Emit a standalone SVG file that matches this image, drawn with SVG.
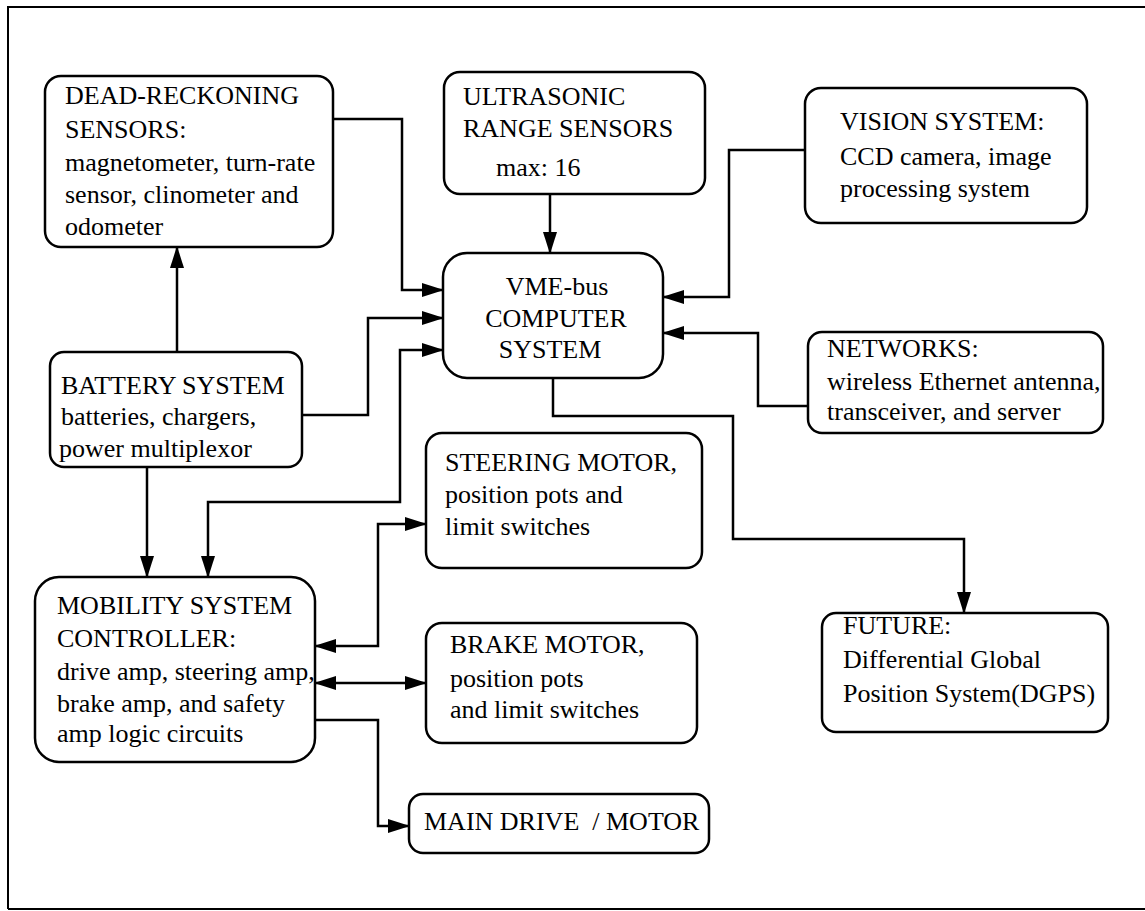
<svg xmlns="http://www.w3.org/2000/svg" width="1145" height="911" viewBox="0 0 1145 911">
  <style>
    .box { fill: #ffffff; stroke: #000000; stroke-width: 2.5; }
    .wire { fill: none; stroke: #000000; stroke-width: 2.5; }
    .frame { fill: none; stroke: #000000; stroke-width: 2; }
    text { font-family: "Liberation Serif", "Times New Roman", serif; font-size: 26px; fill: #000000; white-space: pre; }
    .mid { text-anchor: middle; }
  </style>
  <defs>
    <marker id="arrow" markerUnits="userSpaceOnUse" markerWidth="22" markerHeight="14" refX="21" refY="7" orient="auto-start-reverse">
      <path d="M0,0 L22,7 L0,14 Z" fill="#000000"/>
    </marker>
  </defs>

  <rect width="1145" height="911" fill="#ffffff"/>

  <!-- page frame -->
  <g id="frame">
    <path class="frame" d="M8,909 V7 H1145"/>
    <path class="frame" d="M8,909 H1145"/>
  </g>

  <!-- connectors -->
  <g id="connectors">
    <path class="wire" d="M333,119 H402 V290 H443" marker-end="url(#arrow)"/>
    <path class="wire" d="M550,194 V253" marker-end="url(#arrow)"/>
    <path class="wire" d="M805,150 H729 V297 H663" marker-end="url(#arrow)"/>
    <path class="wire" d="M808,406 H758 V333 H663" marker-end="url(#arrow)"/>
    <path class="wire" d="M177,352 V247" marker-end="url(#arrow)"/>
    <path class="wire" d="M302,415 H368 V318 H443" marker-end="url(#arrow)"/>
    <path class="wire" d="M443,350 H400 V502 H208 V577" marker-start="url(#arrow)" marker-end="url(#arrow)"/>
    <path class="wire" d="M147,467 V577" marker-end="url(#arrow)"/>
    <path class="wire" d="M553,378 V416 H733 V539 H964 V613" marker-end="url(#arrow)"/>
    <path class="wire" d="M315,646 H378 V524 H426" marker-start="url(#arrow)" marker-end="url(#arrow)"/>
    <path class="wire" d="M315,683 H426" marker-start="url(#arrow)" marker-end="url(#arrow)"/>
    <path class="wire" d="M315,720 H378 V826 H409" marker-end="url(#arrow)"/>
  </g>

  <g id="dead-reckoning">
    <rect class="box" x="45" y="76" width="288" height="171" rx="16"/>
    <text x="65" y="104">DEAD-RECKONING</text>
    <text x="65" y="138">SENSORS:</text>
    <text x="65" y="171">magnetometer, turn-rate</text>
    <text x="65" y="203">sensor, clinometer and</text>
    <text x="65" y="235">odometer</text>
  </g>

  <g id="ultrasonic">
    <rect class="box" x="444" y="72" width="261" height="122" rx="16"/>
    <text x="463" y="105">ULTRASONIC</text>
    <text x="463" y="137">RANGE SENSORS</text>
    <text x="496" y="176">max: 16</text>
  </g>

  <g id="vision">
    <rect class="box" x="805" y="88" width="282" height="135" rx="16"/>
    <text x="840" y="130">VISION SYSTEM:</text>
    <text x="840" y="165">CCD camera, image</text>
    <text x="840" y="197">processing system</text>
  </g>

  <g id="vme-computer">
    <rect class="box" x="443" y="253" width="220" height="125" rx="24"/>
    <text class="mid" x="557" y="295">VME-bus</text>
    <text class="mid" x="556" y="327">COMPUTER</text>
    <text class="mid" x="550" y="358">SYSTEM</text>
  </g>

  <g id="networks">
    <rect class="box" x="808" y="332" width="295" height="101" rx="14"/>
    <text x="827" y="357">NETWORKS:</text>
    <text x="827" y="390">wireless Ethernet antenna,</text>
    <text x="827" y="420">transceiver, and server</text>
  </g>

  <g id="battery">
    <rect class="box" x="50" y="352" width="252" height="115" rx="14"/>
    <text x="61" y="394">BATTERY SYSTEM</text>
    <text x="61" y="425">batteries, chargers,</text>
    <text x="59" y="457">power multiplexor</text>
  </g>

  <g id="steering-motor">
    <rect class="box" x="426" y="433" width="276" height="135" rx="16"/>
    <text x="445" y="471">STEERING MOTOR,</text>
    <text x="445" y="503">position pots and</text>
    <text x="445" y="535">limit switches</text>
  </g>

  <g id="mobility-controller">
    <rect class="box" x="35" y="577" width="280" height="185" rx="24"/>
    <text x="57" y="614">MOBILITY SYSTEM</text>
    <text x="57" y="647">CONTROLLER:</text>
    <text x="57" y="680">drive amp, steering amp,</text>
    <text x="57" y="712">brake amp, and safety</text>
    <text x="57" y="742">amp logic circuits</text>
  </g>

  <g id="brake-motor">
    <rect class="box" x="426" y="623" width="271" height="120" rx="16"/>
    <text x="450" y="653">BRAKE MOTOR,</text>
    <text x="450" y="687">position pots</text>
    <text x="450" y="718">and limit switches</text>
  </g>

  <g id="future-dgps">
    <rect class="box" x="822" y="613" width="286" height="119" rx="14"/>
    <text x="843" y="634">FUTURE:</text>
    <text x="843" y="668">Differential Global</text>
    <text x="843" y="702">Position System(DGPS)</text>
  </g>

  <g id="main-drive">
    <rect class="box" x="409" y="794" width="300" height="59" rx="14"/>
    <text x="424" y="830">MAIN DRIVE  / MOTOR</text>
  </g>
</svg>
